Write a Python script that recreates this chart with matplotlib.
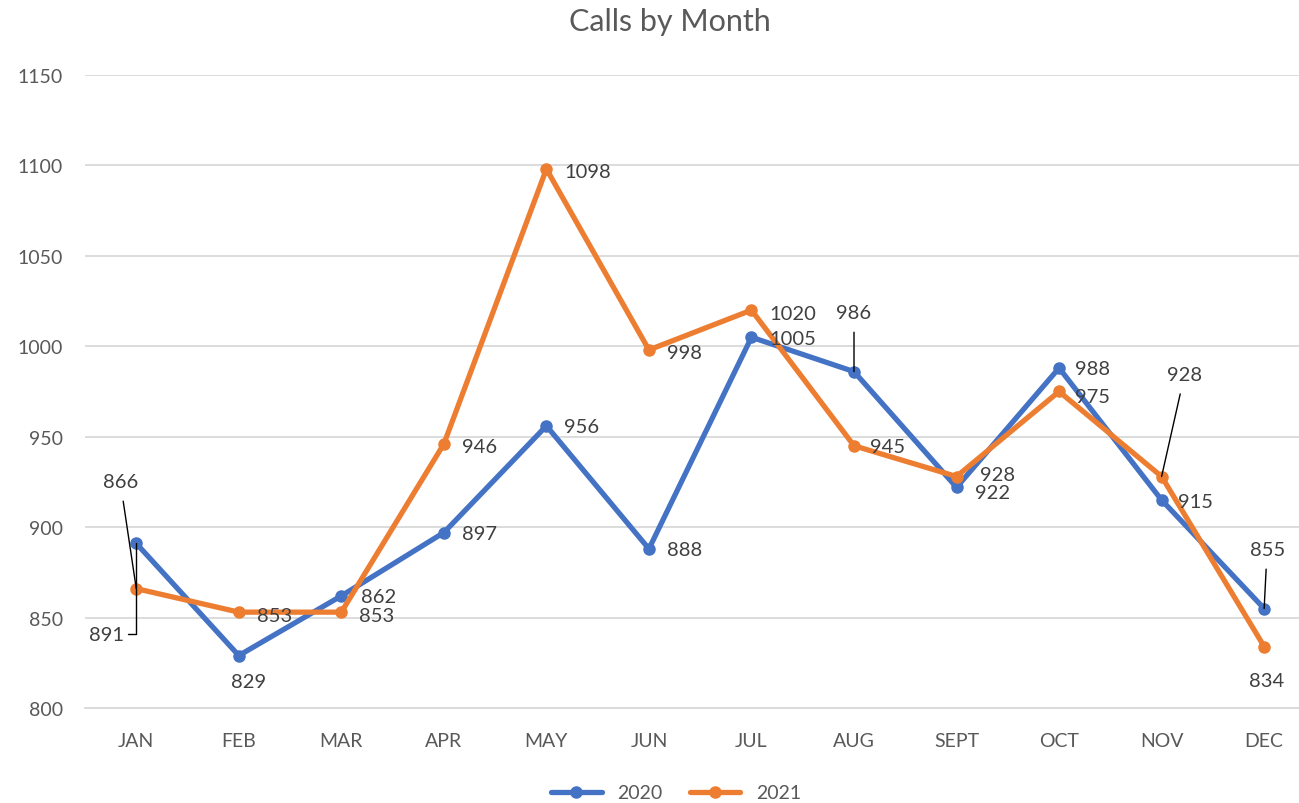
import matplotlib
matplotlib.use("Agg")
import matplotlib.pyplot as plt

months = ["JAN", "FEB", "MAR", "APR", "MAY", "JUN", "JUL", "AUG", "SEPT", "OCT", "NOV", "DEC"]
calls_2020 = [891, 829, 862, 897, 956, 888, 1005, 986, 922, 988, 915, 855]
calls_2021 = [866, 853, 853, 946, 1098, 998, 1020, 945, 928, 975, 928, 834]
yticks = [800, 850, 900, 950, 1000, 1050, 1100, 1150]

c2020 = "#4472C4"
c2021 = "#ED7D31"
txt = "#404040"
font = "Lato"

W, H = 1299, 804
fig = plt.figure(figsize=(W / 100, H / 100), dpi=100)
ax = fig.add_axes([85 / W, (H - 709) / H, (W - 85) / W, (709 - 76) / H])

x = list(range(len(months)))
ax.plot(x, calls_2020, color=c2020, lw=3.8, marker="o", ms=8, label="2020", solid_capstyle="round", zorder=3)
ax.plot(x, calls_2021, color=c2021, lw=3.8, marker="o", ms=8, label="2021", solid_capstyle="round", zorder=4)

ax.set_ylim(800, 1150)
ax.set_xlim(-0.5, 11.34)
ax.set_yticks(yticks)
ax.set_xticks(x)
ax.set_xticklabels(months)
ax.yaxis.grid(True, color="#D9D9D9", lw=1.3)
ax.set_axisbelow(True)
for s in ["top", "right", "left"]:
    ax.spines[s].set_visible(False)
ax.spines["bottom"].set_color("#D9D9D9")
ax.spines["bottom"].set_linewidth(1.3)
ax.tick_params(axis="both", length=0, labelsize=14, labelcolor="#595959")
ax.tick_params(axis="x", pad=17)
ax.tick_params(axis="y", pad=16)
for lab in ax.get_xticklabels() + ax.get_yticklabels():
    lab.set_fontfamily(font)

# label offsets (pixels): (dx, dy, ha, va, leader)
off2020 = [(-12, -91, "right", "center", "elbow"), (10, -26, "center", "center", None),
           (20, -1, "left", "center", None), (18, -1, "left", "center", None),
           (18, -1, "left", "center", None), (18, -1, "left", "center", None),
           (18, -1, "left", "center", None), (0, 59, "center", "center", "line"),
           (18, -5, "left", "center", None), (16, -1, "left", "center", None),
           (16, -1, "left", "center", None), (3, 59, "center", "center", "line")]
off2021 = [(-16, 107, "center", "center", "line"), (18, -3, "left", "center", None),
           (18, -3, "left", "center", None), (18, -3, "left", "center", None),
           (18, -2, "left", "center", None), (18, -3, "left", "center", None),
           (18, -3, "left", "center", None), (16, -1, "left", "center", None),
           (23, 2, "left", "center", None), (16, -5, "left", "center", None),
           (23, 102, "center", "center", "line"), (2, -34, "center", "center", None)]

def label(series, offs):
    for i, (v, (dx, dy, ha, va, leader)) in enumerate(zip(series, offs)):
        kw = {}
        if leader == "line":
            kw["arrowprops"] = dict(arrowstyle="-", color="black", lw=1, shrinkA=6, shrinkB=0)
        elif leader == "elbow":
            kw["arrowprops"] = dict(arrowstyle="-", color="black", lw=1, shrinkA=1, shrinkB=0,
                                    connectionstyle="angle,angleA=0,angleB=90,rad=0")
        ax.annotate(str(v), (i, v), xytext=(dx, dy), textcoords="offset pixels",
                    ha=ha, va=va, fontsize=14.5, color=txt, fontfamily=font, zorder=6, **kw)

label(calls_2020, off2020)
label(calls_2021, off2021)

fig.text(670 / W, 1 - 22 / H, "Calls by Month", ha="center", va="center",
         fontsize=22, color="#595959", fontfamily=font)

leg = fig.legend(loc="center", bbox_to_anchor=(676 / W, 1 - 794 / H), ncol=2, frameon=False,
                 prop={"family": font, "size": 14}, handlelength=2.6, columnspacing=1.4)
for t in leg.get_texts():
    t.set_color("#595959")

fig.savefig("out.png", dpi=100)
